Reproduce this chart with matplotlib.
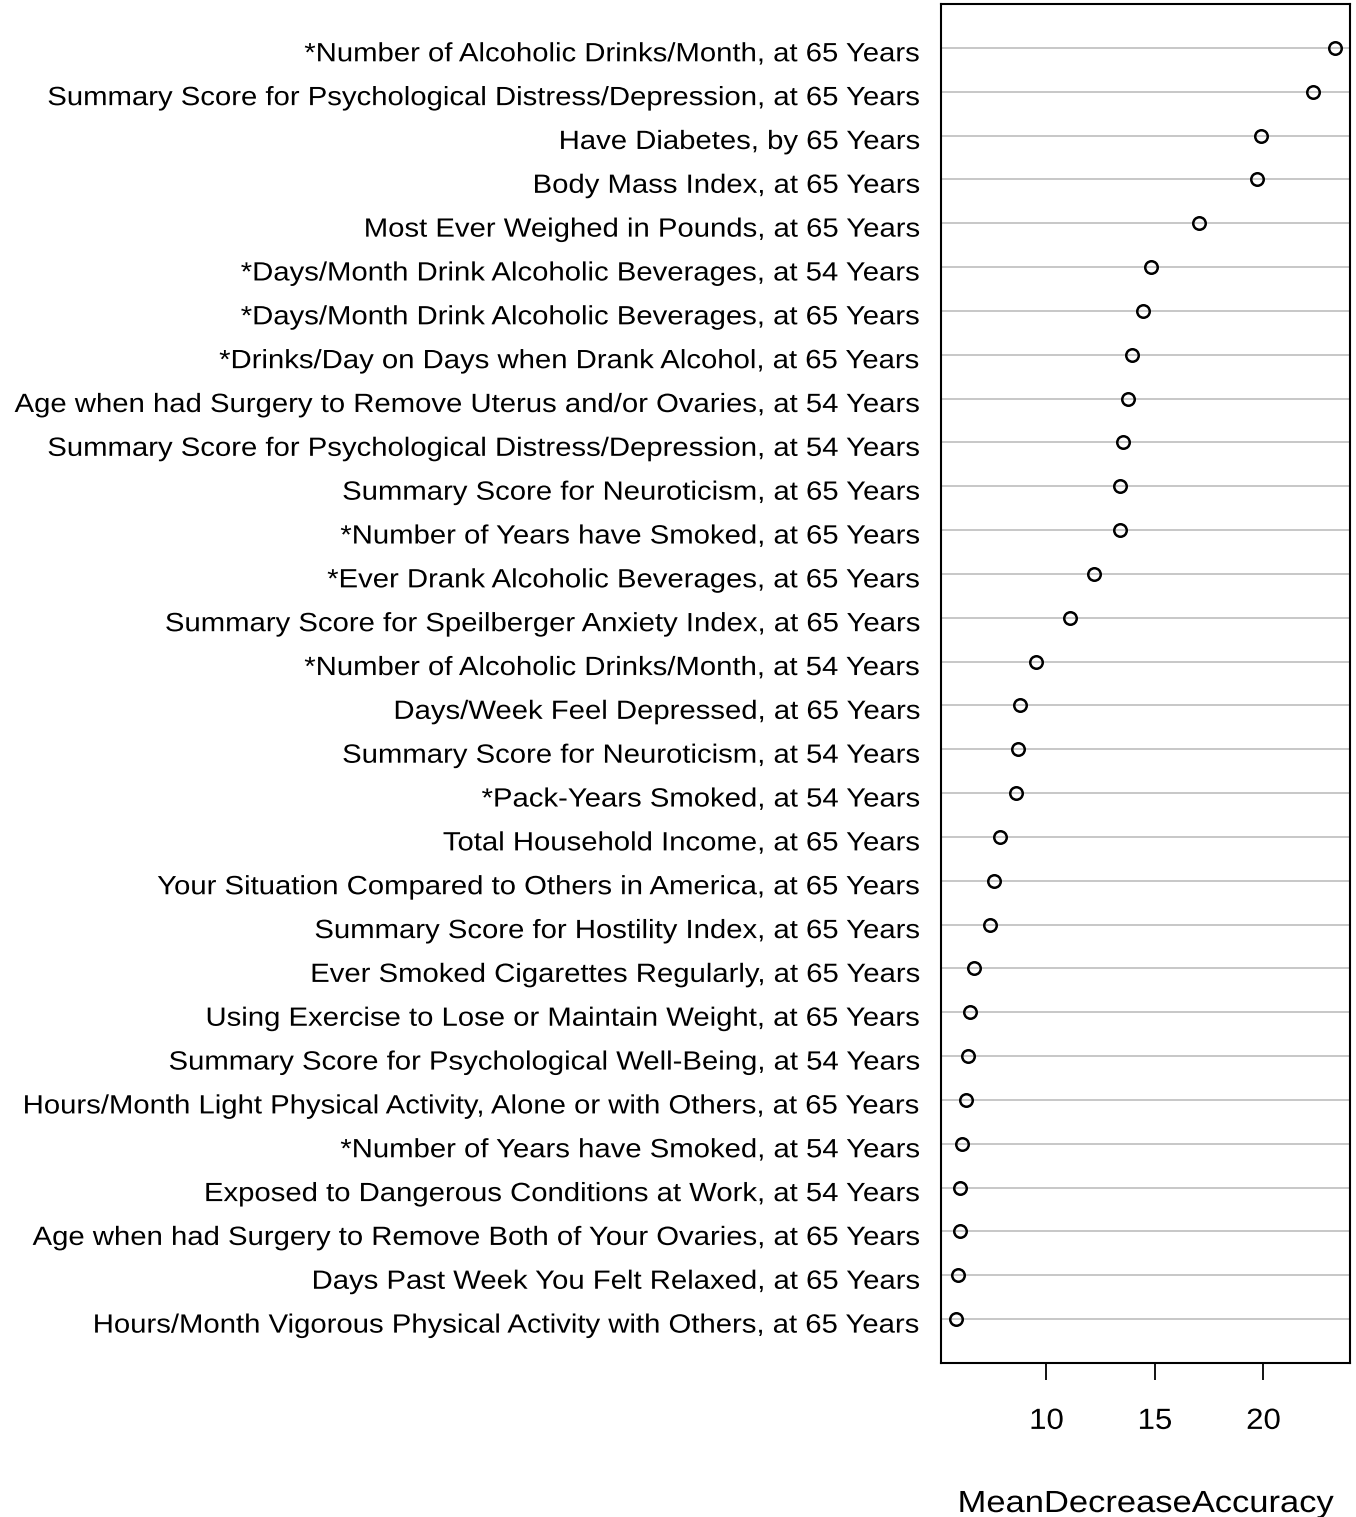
import matplotlib
matplotlib.use("Agg")
import matplotlib.pyplot as plt
import matplotlib.patheffects as pe
from matplotlib.transforms import Affine2D
import numpy as np

plt.rcParams['font.family'] = ['Liberation Sans', 'DejaVu Sans']

variables = [
    "*Number of Alcoholic Drinks/Month, at 65 Years",
    "Summary Score for Psychological Distress/Depression, at 65 Years",
    "Have Diabetes, by 65 Years",
    "Body Mass Index, at 65 Years",
    "Most Ever Weighed in Pounds, at 65 Years",
    "*Days/Month Drink Alcoholic Beverages, at 54 Years",
    "*Days/Month Drink Alcoholic Beverages, at 65 Years",
    "*Drinks/Day on Days when Drank Alcohol, at 65 Years",
    "Age when had Surgery to Remove Uterus and/or Ovaries, at 54 Years",
    "Summary Score for Psychological Distress/Depression, at 54 Years",
    "Summary Score for Neuroticism, at 65 Years",
    "*Number of Years have Smoked, at 65 Years",
    "*Ever Drank Alcoholic Beverages, at 65 Years",
    "Summary Score for Speilberger Anxiety Index, at 65 Years",
    "*Number of Alcoholic Drinks/Month, at 54 Years",
    "Days/Week Feel Depressed, at 65 Years",
    "Summary Score for Neuroticism, at 54 Years",
    "*Pack-Years Smoked, at 54 Years",
    "Total Household Income, at 65 Years",
    "Your Situation Compared to Others in America, at 65 Years",
    "Summary Score for Hostility Index, at 65 Years",
    "Ever Smoked Cigarettes Regularly, at 65 Years",
    "Using Exercise to Lose or Maintain Weight, at 65 Years",
    "Summary Score for Psychological Well-Being, at 54 Years",
    "Hours/Month Light Physical Activity, Alone or with Others, at 65 Years",
    "*Number of Years have Smoked, at 54 Years",
    "Exposed to Dangerous Conditions at Work, at 54 Years",
    "Age when had Surgery to Remove Both of Your Ovaries, at 65 Years",
    "Days Past Week You Felt Relaxed, at 65 Years",
    "Hours/Month Vigorous Physical Activity with Others, at 65 Years",
]

mean_decrease_accuracy = [
    23.29, 22.28, 19.89, 19.71, 17.05, 14.84, 14.47, 13.92, 13.74, 13.55,
    13.37, 13.37, 12.17, 11.07, 9.51, 8.77, 8.68, 8.59, 7.86, 7.58,
    7.40, 6.66, 6.48, 6.39, 6.30, 6.11, 6.02, 6.02, 5.93, 5.84,
]

x_ticks = [10, 15, 20]


class WideText(pe.AbstractPathEffect):
    """Draw glyphs stretched horizontally about their right edge or centre."""

    def __init__(self, factor, anchor='center'):
        super().__init__()
        self.factor = factor
        self.anchor = anchor

    def draw_path(self, renderer, gc, tpath, affine, rgbFace=None):
        ext = tpath.get_extents(affine)
        x0 = ext.x1 if self.anchor == 'right' else 0.5 * (ext.x0 + ext.x1)
        stretch = Affine2D().translate(-x0, 0).scale(self.factor, 1).translate(x0, 0)
        renderer.draw_path(gc, tpath, affine + stretch, rgbFace)


n = len(variables)
ypos = np.arange(n, 0, -1)
vals = np.array(mean_decrease_accuracy)

W, H = 1356, 1517
fig = plt.figure(figsize=(W / 100, H / 100), dpi=100)
ax = fig.add_axes([941 / W, 1 - 1363 / H, (1350 - 941) / W, (1363 - 4) / H])

for y in ypos:
    ax.axhline(y, color='#bebebe', lw=1.2, zorder=1)

ax.plot(vals, ypos, linestyle='none', marker='o', markersize=9,
        markerfacecolor='none', markeredgecolor='black', markeredgewidth=1.8, zorder=3)

span = vals.max() - vals.min()
ax.set_xlim(vals.min() - 0.04 * span, vals.max() + 0.04 * span)
ax.set_ylim(0, n + 1)

# category names sit slightly below their guide lines
ax.set_yticks(ypos - 0.09)
ax.set_yticklabels(variables, fontsize=19)
ax.tick_params(axis='y', length=0, pad=15)
for lab in ax.get_yticklabels():
    lab.set_path_effects([WideText(1.11, 'right')])

ax.set_xticks(x_ticks)
ax.set_xticklabels([str(t) for t in x_ticks], fontsize=21)
ax.tick_params(axis='x', length=12.2, width=1.3, pad=19.4)
for lab in ax.get_xticklabels():
    lab.set_path_effects([WideText(1.07, 'center')])

axis_center = (941 + 1350) / 2 / W
fig.text(axis_center, 5 / H, "MeanDecreaseAccuracy", fontsize=22,
         ha='center', va='baseline',
         path_effects=[WideText(1.13, 'center')])

for s in ax.spines.values():
    s.set_linewidth(1.5)
    s.set_color('black')

fig.savefig("out.png", dpi=100)
